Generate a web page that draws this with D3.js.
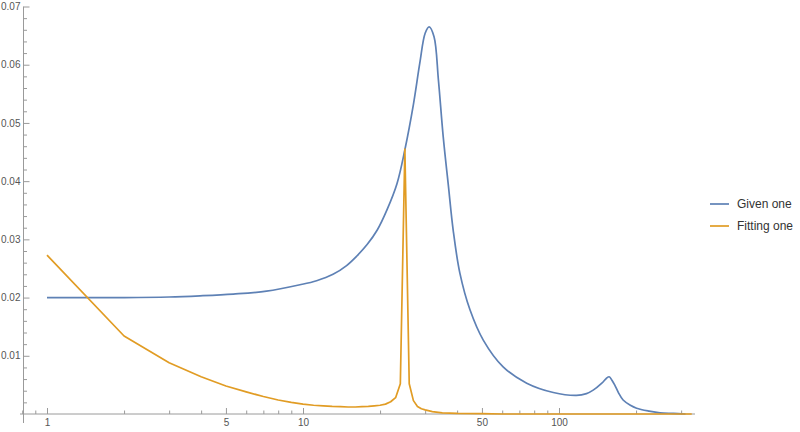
<!DOCTYPE html>
<html>
<head>
<meta charset="utf-8">
<script src="https://cdn.jsdelivr.net/npm/d3@7"></script>
<style>
  html, body { margin: 0; padding: 0; background: #fff; }
  svg { display: block; font-family: "Liberation Sans", Arial, sans-serif; }
</style>
</head>
<body>
<svg id="chart" width="800" height="432"></svg>
<script>
// ---- data ----
const seriesNames = ["Given one", "Fitting one"];

const givenX = [1, 2, 3, 3.96, 5.34, 7.2, 9.73, 11.3, 13.1, 14.8, 16.2, 17.8, 19.5, 21.3, 23.3, 25, 27, 28.6, 30, 31.1, 32.5, 33.8, 35.3, 37, 38.6, 41, 44.9, 50.6, 60.5, 74.8, 95, 117, 128, 136, 147, 153, 157, 161, 165, 171, 178, 190, 201, 225, 248, 280, 312];
const givenY = [0.0200, 0.0200, 0.0201, 0.0203, 0.0206, 0.0211, 0.0222, 0.0229, 0.0240, 0.0255, 0.0271, 0.0291, 0.0316, 0.0351, 0.0396, 0.0454, 0.0532, 0.0603, 0.0654, 0.0665, 0.0648, 0.0574, 0.0476, 0.0391, 0.0316, 0.0242, 0.0179, 0.0127, 0.0081, 0.0053, 0.0037, 0.0032, 0.0035, 0.0041, 0.0053, 0.0061, 0.0064, 0.0058, 0.0050, 0.0036, 0.0024, 0.0015, 0.0010, 0.0005, 0.0002, 0.0001, 0.0000];

const fitX = [1, 2, 3, 4, 5, 6, 7, 8, 9, 10, 11, 12, 13, 14, 15, 16, 17, 18, 19, 20, 21, 22, 23, 24, 25, 26, 27, 28, 29, 30, 32, 35, 40, 50, 60, 80, 100, 150, 200, 250, 330];
const fitY = [0.0273, 0.0134, 0.0088, 0.0064, 0.0048, 0.0038, 0.0030, 0.0024, 0.0020, 0.0017, 0.0015, 0.0014, 0.0013, 0.00125, 0.0012, 0.0012, 0.00125, 0.0013, 0.0014, 0.0015, 0.0017, 0.0021, 0.0028, 0.0052, 0.0455, 0.0052, 0.0023, 0.0013, 0.0009, 0.0007, 0.0004, 0.0002, 0.0001, 0.00005, 0, 0, 0, 0, 0, 0, 0];

const xMajor = [1, 5, 10, 50, 100];
const xMinor = [0.8, 0.9, 2, 3, 4, 6, 7, 8, 9, 20, 30, 40, 60, 70, 80, 90, 200, 300];
const yMajor = [0.01, 0.02, 0.03, 0.04, 0.05, 0.06, 0.07];
const yMinor = d3.range(1, 35).map(i => +(i * 0.002).toFixed(3)).filter(v => !yMajor.includes(v));

// ---- layout ----
const svg = d3.select("#chart");
const x = d3.scaleLog().domain([1, 100]).range([47, 559]);
const y = d3.scaleLinear().domain([0, 0.07]).range([414, 6.5]);

const axisColor = "#9a9a9a";
const labelColor = "#555";
const colors = ["#5E81B5", "#E19C24"];

// axes lines
const axisX0 = x.invert(23.5);
svg.append("line").attr("x1", 20).attr("x2", 695).attr("y1", y(0)).attr("y2", y(0))
  .attr("stroke", axisColor).attr("stroke-width", 1);
svg.append("line").attr("x1", x(axisX0)).attr("x2", x(axisX0)).attr("y1", 423).attr("y2", y(0.07))
  .attr("stroke", axisColor).attr("stroke-width", 1);

// x axis ticks
const gx = svg.append("g").attr("transform", `translate(0,${y(0)})`)
  .call(d3.axisBottom(x).tickValues(xMajor).tickFormat(d3.format("d")).tickSize(-6).tickPadding(5));
const gxm = svg.append("g").attr("transform", `translate(0,${y(0)})`)
  .call(d3.axisBottom(x).tickValues(xMinor).tickFormat("").tickSize(-3.5));

// y axis ticks
const gy = svg.append("g").attr("transform", `translate(${x(axisX0)},0)`)
  .call(d3.axisLeft(y).tickValues(yMajor).tickFormat(d3.format(".2f")).tickSize(-6).tickPadding(3));
const gym = svg.append("g").attr("transform", `translate(${x(axisX0)},0)`)
  .call(d3.axisLeft(y).tickValues(yMinor).tickFormat("").tickSize(-3.5));

[gx, gxm, gy, gym].forEach(g => {
  g.select(".domain").remove();
  g.selectAll(".tick line").attr("stroke", axisColor);
  g.selectAll(".tick text").attr("fill", labelColor).attr("font-size", 10)
    .attr("font-family", "'Liberation Sans', Arial, sans-serif");
});

// lines
const givenData = givenX.map((d, i) => [d, givenY[i]]);
const fitData = fitX.map((d, i) => [d, fitY[i]]);

svg.append("path").datum(givenData)
  .attr("fill", "none").attr("stroke", colors[0]).attr("stroke-width", 1.7)
  .attr("stroke-linejoin", "round")
  .attr("d", d3.line().x(d => x(d[0])).y(d => y(d[1])).curve(d3.curveCatmullRom.alpha(0.5)));

svg.append("path").datum(fitData)
  .attr("fill", "none").attr("stroke", colors[1]).attr("stroke-width", 1.7)
  .attr("stroke-linejoin", "round")
  .attr("d", d3.line().x(d => x(d[0])).y(d => y(d[1])));

// legend
const legend = svg.append("g").attr("transform", "translate(710,204)");
seriesNames.forEach((name, i) => {
  const g = legend.append("g").attr("transform", `translate(0,${i * 22})`);
  g.append("line").attr("x1", 0).attr("x2", 19).attr("y1", 0).attr("y2", 0)
    .attr("stroke", colors[i]).attr("stroke-width", 1.7);
  g.append("text").attr("x", 27).attr("y", 0).attr("dy", "0.35em")
    .attr("font-size", 12).attr("fill", "#333").text(name);
});
</script>
</body>
</html>
